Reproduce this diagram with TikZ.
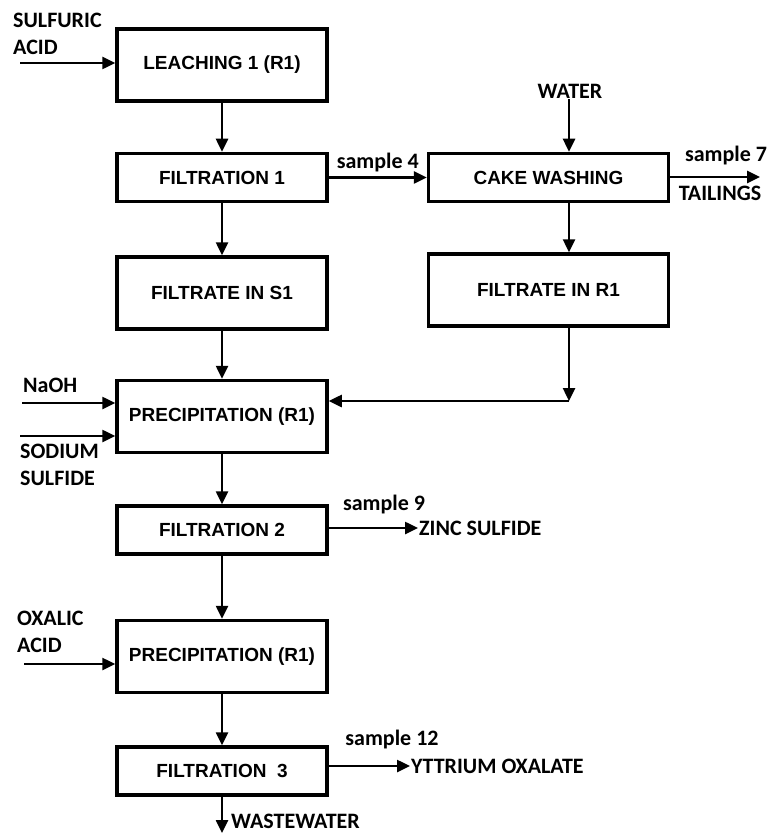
\documentclass[tikz,border=0pt]{standalone}
\usepackage{fontspec}
\setmainfont{Liberation Sans}
\newfontfamily\calfont{Carlito}
\usetikzlibrary{arrows.meta,positioning}

\begin{document}
\begin{tikzpicture}[x=1pt,y=-1pt,
    node distance=49pt and 98pt,
    box/.style={draw,line width=3.5pt,minimum width=210pt,inner sep=2pt,
        font=\fontsize{19}{23}\selectfont\bfseries},
    tallbox/.style={box,minimum height=72pt},
    flatbox/.style={box,minimum height=48pt},
    lbl/.style={font=\calfont\fontsize{22}{27}\selectfont\bfseries,inner sep=1pt},
    arrow/.style={-{Triangle[length=13pt,width=12pt]},line width=2.5pt}
]
\useasboundingbox (0,0) rectangle (771,834);

% main column
\node[tallbox] (leach) at (222,65) {LEACHING 1 (R1)};
\node[flatbox,below=of leach] (filt1) {FILTRATION 1};
\node[tallbox,below=52pt of filt1] (fs1) {FILTRATE IN S1};
\node[tallbox,below=48pt of fs1] (prec1) {PRECIPITATION (R1)};
\node[flatbox,below=50pt of prec1] (filt2) {FILTRATION 2};
\node[tallbox,below=63pt of filt2] (prec2) {PRECIPITATION (R1)};
\node[flatbox,below=51pt of prec2] (filt3) {FILTRATION \ 3};

% washing column
\node[flatbox,minimum width=240pt,right=of filt1] (cake) {CAKE WASHING};
\node[tallbox,minimum width=240pt,below=of cake] (fr1) {FILTRATE IN R1};

% feeds
\node[lbl,align=left,anchor=north west] (acid1) at (12,12) {SULFURIC\\ACID};
\coordinate (inAcid1) at (20,63);
\node[lbl] (water) at (570,91) {WATER};
\node[lbl,anchor=north west] (naoh) at (22,377) {NaOH};
\coordinate (inNaoh) at (22,403);
\coordinate (inNa2S) at (20,436);
\node[lbl,align=left,anchor=north west] (na2s) at (19,443) {SODIUM\\SULFIDE};
\node[lbl,align=left,anchor=north west] (oxal) at (16,610) {OXALIC\\ACID};
\coordinate (inOxal) at (24,664);

% products
\coordinate (outTail) at (760,177);
\node[lbl] (s7) at (726,156) {sample 7};
\node[lbl] (tail) at (720,193) {TAILINGS};
\node[lbl] (s9) at (384,505) {sample 9};
\node[lbl,anchor=west] (zns) at (418,528) {ZINC SULFIDE};
\node[lbl] (s12) at (392,740) {sample 12};
\node[lbl,anchor=west] (yox) at (410,766) {YTTRIUM OXALATE};
\node[lbl,anchor=west] (waste) at (230,821) {WASTEWATER};
\coordinate (outWaste) at (222,833);
\coordinate (junc) at (569,401);

\draw[arrow] (inAcid1) -- (inAcid1 -| leach.west);
\draw[arrow] (leach) -- (filt1);
\draw[arrow] (filt1) -- (fs1);
\draw[arrow] (fs1) -- (prec1);
\draw[arrow] (filt1.east) -- node[lbl,above=3pt] (s4) {sample 4} (filt1.east -| cake.west);
\draw[arrow] (water.south -| junc) -- (junc |- cake.north);
\draw[arrow] (cake.east |- outTail) -- (outTail);
\draw[arrow] (junc |- cake.south) -- (junc |- fr1.north);
\draw[arrow] (junc |- fr1.south) -- (junc);
\draw[arrow] (junc) -- (junc -| prec1.east);
\draw[arrow] (inNaoh) -- (inNaoh -| prec1.west);
\draw[arrow] (inNa2S) -- (inNa2S -| prec1.west);
\draw[arrow] (prec1) -- (filt2);
\draw[arrow] (filt2.east |- zns.west) -- (zns.west);
\draw[arrow] (filt2) -- (prec2);
\draw[arrow] (inOxal) -- (inOxal -| prec2.west);
\draw[arrow] (prec2) -- (filt3);
\draw[arrow] (filt3.east |- yox.west) -- (yox.west);
\draw[arrow] (filt3) -- (outWaste);
\end{tikzpicture}
\end{document}
